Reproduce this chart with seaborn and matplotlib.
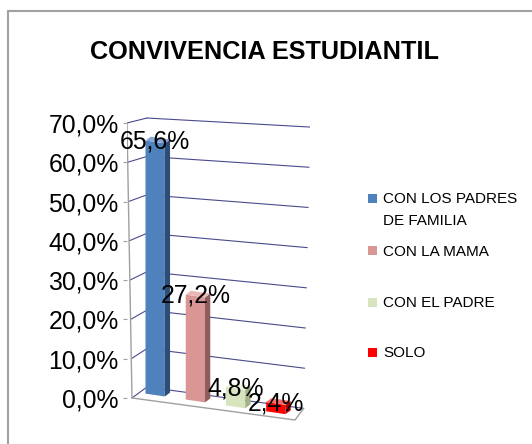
import numpy as np
import pandas as pd
import matplotlib
matplotlib.use('Agg')
import matplotlib.pyplot as plt
import seaborn as sns
from matplotlib.patches import Polygon, Rectangle
from matplotlib.lines import Line2D
from matplotlib.transforms import Affine2D
from matplotlib.ticker import FuncFormatter

# data
categories = ['CON LOS PADRES\nDE FAMILIA', 'CON LA MAMA', 'CON EL PADRE', 'SOLO']
values = [65.6, 27.2, 4.8, 2.4]
yticks = [0, 10, 20, 30, 40, 50, 60, 70]
title = 'CONVIVENCIA ESTUDIANTIL'

front_colors = ['#4F81BD', '#D99694', '#D7E4BD', '#FF0000']
side_colors = ['#2C4D75', '#8C5D5C', '#A3B187', '#B00000']
top_colors = ['#86A6D4', '#EAB9B7', '#EEF4E0', '#FF6A6A']

sns.set_theme(style='white')
plt.rcParams['font.family'] = ['Liberation Sans', 'DejaVu Sans']

W, H = 532, 444
fig = plt.figure(figsize=(W / 100, H / 100), dpi=100)
fig.patch.set_facecolor('white')

# plot area (pseudo 3d box)
ax = fig.add_axes([127 / W, (H - 425.5) / H, 183 / W, 315.5 / H])
ax.set_facecolor('none')

df = pd.DataFrame({'grupo': categories, 'pct': values})
sns.barplot(data=df, x='grupo', y='pct', hue='grupo', palette=front_colors,
            width=0.48, saturation=1, legend=False, ax=ax, zorder=3)

# simple oblique projection for the bars: floor drops to the right, slight foreshortening
k, s, x0 = 1.5, 0.982, 0.5
proj = Affine2D(np.array([[1, 0, 0], [-k, s, k * x0], [0, 0, 1]])) + ax.transData
dx, dy = 0.13, 1.2

for i, p in enumerate(list(ax.patches)):
    p.set_transform(proj)
    p.set_edgecolor('none')
    x, w, h = p.get_x(), p.get_width(), p.get_height()
    side = Polygon([(x + w, 0), (x + w + dx, dy), (x + w + dx, h + dy), (x + w, h)],
                   closed=True, facecolor=side_colors[i], edgecolor='none',
                   transform=proj, zorder=3)
    top = Polygon([(x, h), (x + w, h), (x + w + dx, h + dy), (x + dx, h + dy)],
                  closed=True, facecolor=top_colors[i], edgecolor='none',
                  transform=proj, zorder=3)
    ax.add_patch(side)
    ax.add_patch(top)
    ax.text(x + w / 2, h, f'{values[i]:.1f}%'.replace('.', ','), transform=proj,
            ha='center', va='center', fontsize=17.8, color='black', zorder=10)

# walls and gridlines
grid_c = '#4A4A8C'
edge_c = '#A0A0A0'
xB = -0.203


def x_front(v):
    return -0.7 + 0.124 * (1 - v / 70)


def y_back(v):
    return 2.8 + 0.978 * v


def x_right(v):
    return 3.85 - (70 - v) * 0.00224


def y_right(v):
    return 68.96 - (70 - v) * 1.023


for v in yticks:
    ax.plot([x_front(v), xB], [v, y_back(v)], color=grid_c, lw=0.8, zorder=1)
    ax.plot([xB, x_right(v)], [y_back(v), y_right(v)], color=grid_c, lw=0.8, zorder=1)

ax.plot([x_front(0), x_front(70)], [0, 70], color=edge_c, lw=1.0, zorder=1)
ax.plot([x_front(0), 3.477, x_right(0)], [0, -5.6, y_right(0)], color=edge_c, lw=1.0, zorder=1)

ax.set_xlim(-0.7, 3.85)
ax.set_ylim(-7, 73.3)
ax.set_yticks(yticks)
ax.yaxis.set_major_formatter(FuncFormatter(lambda v, _: f'{v:.1f}%'.replace('.', ',')))
ax.tick_params(axis='y', left=True, length=3, width=0.8, color=edge_c, pad=3,
               labelsize=17.8, labelcolor='black')
ax.set_xticks([])
ax.set_xlabel('')
ax.set_ylabel('')
for sp in ax.spines.values():
    sp.set_visible(False)

# title
fig.text(265 / W, 1 - 52 / H, title, ha='center', va='center',
         fontsize=18.2, fontweight='bold', color='black')

# legend
leg_y = [198, 251, 302, 352]
for cat, col, y in zip(categories, front_colors, leg_y):
    fig.add_artist(Rectangle((368 / W, 1 - (y + 4.5) / H), 9 / W, 9 / H,
                             transform=fig.transFigure, facecolor=col, edgecolor='none'))
    fig.text(383 / W, 1 - (y - 5.7) / H, cat, ha='left', va='top',
             fontsize=11, linespacing=1.66, color='black')

# chart frame (only top and left edges visible)
fig.add_artist(Line2D([8 / W, 8 / W], [0, 1 - 11 / H], transform=fig.transFigure,
                      color=edge_c, lw=1.5))
fig.add_artist(Line2D([8 / W, 1], [1 - 11 / H, 1 - 11 / H], transform=fig.transFigure,
                      color=edge_c, lw=1.5))

fig.savefig('out.png', dpi=100)
